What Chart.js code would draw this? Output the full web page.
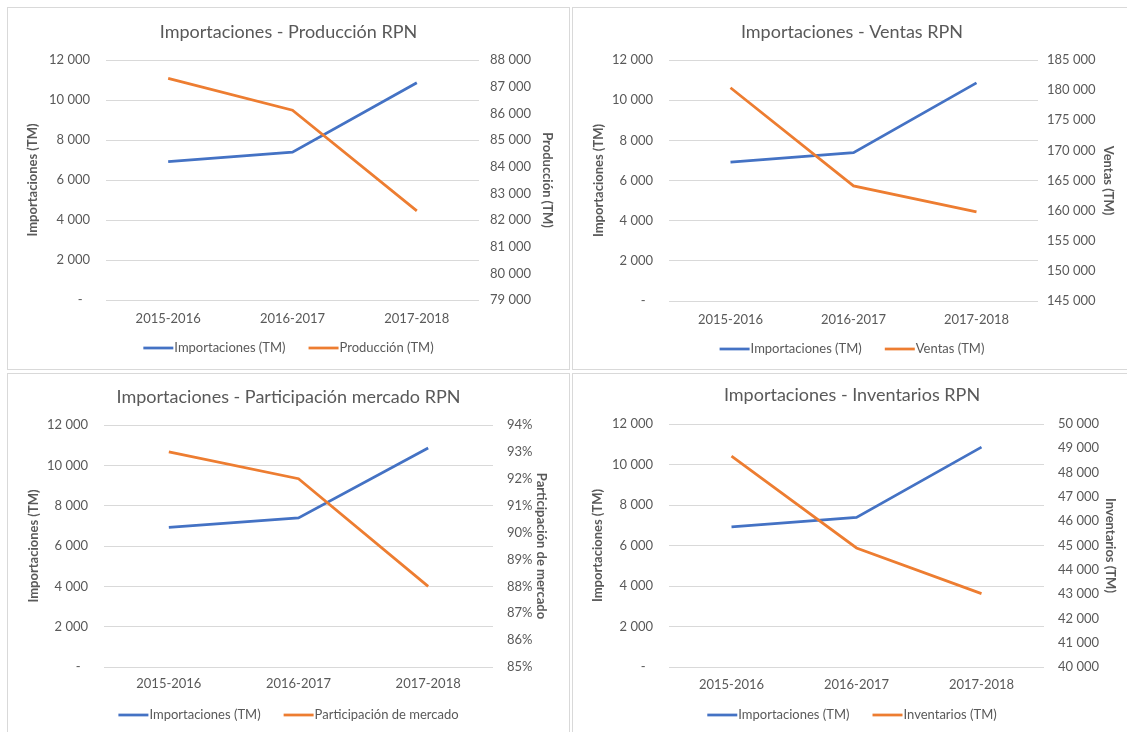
<!DOCTYPE html>
<html><head><meta charset="utf-8">
<script src="https://cdn.jsdelivr.net/npm/chart.js@4.4.1/dist/chart.umd.min.js"></script>
<style>
html,body{margin:0;padding:0;background:#fff;width:1127px;height:732px;overflow:hidden;position:relative;}
.panel{position:absolute;border:1px solid #d9d9d9;box-sizing:border-box;background:#fff;}
.panel canvas{position:absolute;left:0;top:0;}
</style></head><body>
<div id="p0" class="panel"><canvas id="c0"></canvas></div>
<div id="p1" class="panel"><canvas id="c1"></canvas></div>
<div id="p2" class="panel"><canvas id="c2"></canvas></div>
<div id="p3" class="panel"><canvas id="c3"></canvas></div>
<script>
// ---- data ----
const categories = ['2015-2016', '2016-2017', '2017-2018'];
const importaciones = [6920, 7390, 10860];
const produccion = [87310, 86120, 82340];
const ventas = [180400, 164100, 159800];
const participacion = [93, 92, 88];
const inventarios = [48680, 44900, 43020];

// axis ranges [min, max, step]
const importacionesAxis = [0, 12000, 2000];
const produccionAxis = [79000, 88000, 1000];
const ventasAxis = [145000, 185000, 5000];
const participacionAxis = [85, 94, 1];
const inventariosAxis = [40000, 50000, 1000];

const chartTitles = ['Importaciones - Producción RPN', 'Importaciones - Ventas RPN',
  'Importaciones - Participación mercado RPN', 'Importaciones - Inventarios RPN'];
const leftLabel = 'Importaciones (TM)';
const rightLabels = ['Producción (TM)', 'Ventas (TM)', 'Participación de mercado', 'Inventarios (TM)'];
const rightLegend = ['Producción (TM)', 'Ventas (TM)', 'Participación de mercado', 'Inventarios (TM)'];

// ---- layout (page pixels) ----
const layouts = [
  {box:[7,7,563,363], area:[106,60,479,300], titleY:32, xLabelY:319, legendY:348, lLab:90, lTit:33, rLab:490, rTit:547},
  {box:[572,7,560,363], area:[669,60,1038,301], titleY:32, xLabelY:320, legendY:349, lLab:653, lTit:599, rLab:1047, rTit:1108},
  {box:[7,373,563,362], area:[104,425,493,667], titleY:397, xLabelY:684, legendY:715, lLab:88, lTit:34, rLab:507, rTit:541},
  {box:[572,373,560,362], area:[669,424,1044,667], titleY:395, xLabelY:685, legendY:715, lLab:653, lTit:598, rLab:1058, rTit:1110}
];

const FONT = 'Lato';
const GRAY = '#595959';
const fmt = v => String(Math.round(v)).replace(/\B(?=(\d{3})+(?!\d))/g, ' ');

// Excel-style legend: line sample directly followed by its text, centred
const excelLegend = {
  id: 'excelLegend',
  afterDraw(chart, args, opts) {
    const ctx = chart.ctx;
    ctx.save();
    ctx.font = '13px ' + FONT;
    const items = chart.data.datasets.map(ds => ({text: ds.label, color: ds.borderColor, w: ds.borderWidth}));
    const sample = 30, gapText = 1, gapItem = 23;
    const widths = items.map(it => sample + gapText + ctx.measureText(it.text).width);
    const total = widths.reduce((a, b) => a + b, 0) + gapItem * (items.length - 1);
    let x = chart.width / 2 - total / 2;
    const y = opts.y;
    items.forEach((it, k) => {
      ctx.strokeStyle = it.color; ctx.lineWidth = it.w; ctx.lineCap = 'butt';
      ctx.beginPath(); ctx.moveTo(x, y); ctx.lineTo(x + sample, y); ctx.stroke();
      ctx.fillStyle = GRAY; ctx.textBaseline = 'middle'; ctx.textAlign = 'left';
      ctx.fillText(it.text, x + sample + gapText, y);
      x += widths[k] + gapItem;
    });
    ctx.restore();
  }
};

const panels = [
  {series: produccion, axis: produccionAxis, fmtR: fmt},
  {series: ventas, axis: ventasAxis, fmtR: fmt},
  {series: participacion, axis: participacionAxis, fmtR: v => Math.round(v) + '%'},
  {series: inventarios, axis: inventariosAxis, fmtR: fmt}
];

panels.forEach((p, i) => {
  const L = layouts[i];
  const [bx, by, bw, bh] = L.box;
  const div = document.getElementById('p' + i);
  div.style.left = bx + 'px'; div.style.top = by + 'px';
  div.style.width = bw + 'px'; div.style.height = bh + 'px';
  const ox = bx + 1, oy = by + 1, cw = bw - 2, ch = bh - 2;
  const cv = document.getElementById('c' + i);
  cv.width = cw; cv.height = ch;
  cv.style.width = cw + 'px'; cv.style.height = ch + 'px';

  const aL = L.area[0] - ox, aT = L.area[1] - oy, aR = L.area[2] - ox, aB = L.area[3] - oy;
  const titleSize = 18, titleLH = titleSize * 1.2;
  const tPadTop = (L.titleY - oy) - titleLH / 2;
  const tPadBot = aT - tPadTop - titleLH;
  const legendY = L.legendY - oy;
  const xH = (legendY - 9) - aB;
  const layoutBottom = ch - aB - xH;
  const tickLH = 13 * 1.2;

  new Chart(cv, {
    type: 'line',
    data: {
      labels: categories,
      datasets: [
        {label: leftLabel, data: importaciones, borderColor: '#4472C4', backgroundColor: '#4472C4',
         borderWidth: 2.75, pointRadius: 0, tension: 0, yAxisID: 'y', order: 1},
        {label: rightLegend[i], data: p.series, borderColor: '#ED7D31', backgroundColor: '#ED7D31',
         borderWidth: 2.75, pointRadius: 0, tension: 0, yAxisID: 'y1', order: 0}
      ]
    },
    plugins: [excelLegend],
    options: {
      responsive: false, animation: false, devicePixelRatio: 1,
      layout: {padding: {left: 0, right: 0, top: 0, bottom: layoutBottom}},
      plugins: {
        tooltip: {enabled: false},
        legend: {display: false},
        excelLegend: {y: legendY},
        title: {display: true, text: chartTitles[i], color: GRAY,
                font: {family: FONT, size: titleSize, weight: 'normal'},
                padding: {top: tPadTop, bottom: tPadBot}}
      },
      scales: {
        x: {type: 'category', offset: true,
            grid: {display: false, drawTicks: false}, border: {display: false},
            ticks: {color: GRAY, font: {family: FONT, size: 13}, padding: (L.xLabelY - oy - aB) - tickLH / 2, maxRotation: 0},
            afterFit: s => { s.height = xH; }},
        y: {position: 'left', min: importacionesAxis[0], max: importacionesAxis[1],
            grid: {color: '#d9d9d9', lineWidth: 1, drawTicks: false}, border: {display: false},
            ticks: {stepSize: importacionesAxis[2], color: GRAY, font: {family: FONT, size: 13},
                    padding: aL - (L.lLab - ox),
                    callback: v => v === 0 ? '-\u2007' : fmt(v)},
            title: {display: true, text: leftLabel, color: GRAY,
                    font: {family: FONT, size: 13, weight: 'bold'},
                    padding: {top: (L.lTit - ox) - tickLH / 2, bottom: 0}},
            afterFit: s => { s.width = aL; }},
        y1: {position: 'right', min: p.axis[0], max: p.axis[1],
            grid: {display: false, drawTicks: false}, border: {display: false},
            ticks: {stepSize: p.axis[2], color: GRAY, font: {family: FONT, size: 13},
                    padding: (L.rLab - ox) - aR, callback: v => p.fmtR(v)},
            title: {display: true, text: rightLabels[i], color: GRAY,
                    font: {family: FONT, size: 13, weight: 'bold'},
                    padding: {top: (cw - (L.rTit - ox)) - tickLH / 2, bottom: 0}},
            afterFit: s => { s.width = cw - aR; }}
      }
    }
  });
});
</script>
</body></html>
